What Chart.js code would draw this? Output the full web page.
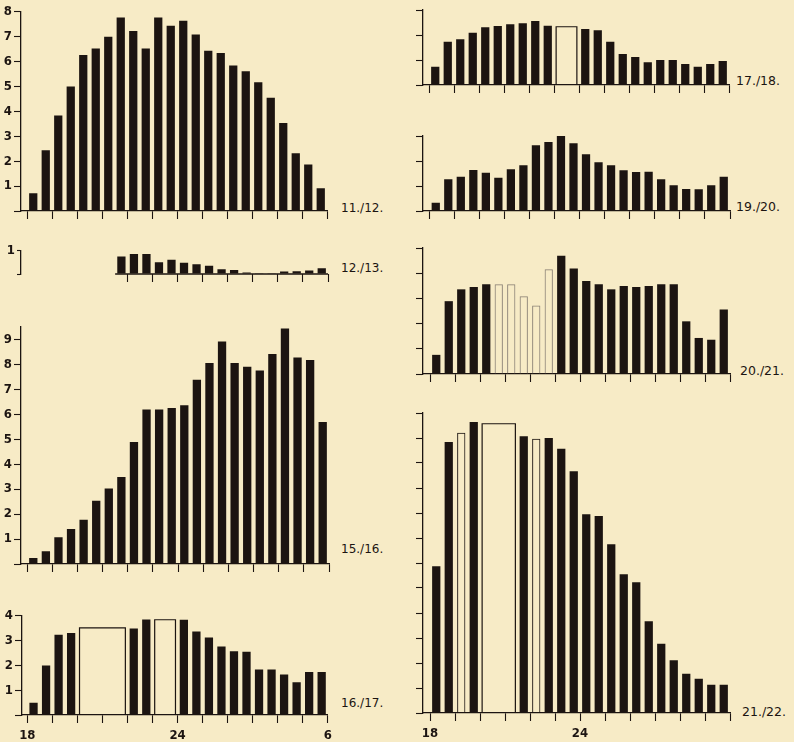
<!DOCTYPE html>
<html lang="de">
<head>
    <meta charset="UTF-8">
    <title>Nächtliche Häufigkeit, 18 - 6 Uhr</title>
    <script src="https://cdn.jsdelivr.net/npm/chart.js"></script>
    <style>
        body {
            margin: 0;
            width: 794px;
            height: 742px;
            position: relative;
            overflow: hidden;
            background: #f7ebc6;
            font-family: 'DejaVu Sans', 'Liberation Sans', sans-serif;
        }

        canvas {
            position: absolute;
        }

        .tag {
            position: absolute;
            font-size: 12px;
            line-height: 12px;
            color: #1c1411;
            white-space: nowrap;
        }

        .tag.big {
            font-size: 12.5px;
            line-height: 13px;
        }
    </style>
</head>
<body>
    <div class="tag" style="left:341px; top:202px">11./12.</div>
    <div class="tag" style="left:341px; top:262px">12./13.</div>
    <div class="tag" style="left:341px; top:543px">15./16.</div>
    <div class="tag" style="left:341px; top:697px">16./17.</div>
    <div class="tag big" style="left:736px; top:74px">17./18.</div>
    <div class="tag big" style="left:736px; top:200px">19./20.</div>
    <div class="tag big" style="left:740px; top:364px">20./21.</div>
    <div class="tag big" style="left:742px; top:705px">21./22.</div>

    <script>
        // half-hour slots, 18 h to 6 h
        const slots = ['18:00', '18:30', '19:00', '19:30', '20:00', '20:30', '21:00', '21:30',
            '22:00', '22:30', '23:00', '23:30', '0:00', '0:30', '1:00', '1:30',
            '2:00', '2:30', '3:00', '3:30', '4:00', '4:30', '5:00', '5:30'];

        // hourly tick labels (13 ticks, 18 h .. 6 h)
        const hourLabels = ['18', '', '', '', '', '', '24', '', '', '', '', '', '6'];
        const hourLabelsNoEnd = ['18', '', '', '', '', '', '24', '', '', '', '', '', ''];

        // values per night (null = no filled bar)
        const v1112 = [0.71, 2.44, 3.84, 5.0, 6.27, 6.53, 7.0, 7.77, 7.23, 6.53, 7.77, 7.44,
            7.64, 7.09, 6.44, 6.35, 5.84, 5.61, 5.17, 4.55, 3.53, 2.32, 1.87, 0.91];
        const v1213 = [null, null, null, null, null, null, null, 0.75, 0.86, 0.86, 0.51, 0.61,
            0.49, 0.42, 0.36, 0.21, 0.17, 0.07, 0.03, 0.03, 0.11, 0.12, 0.15, 0.25];
        const v1516 = [0.24, 0.51, 1.07, 1.4, 1.77, 2.53, 3.02, 3.48, 4.89, 6.19, 6.19, 6.25,
            6.36, 7.38, 8.05, 8.91, 8.05, 7.9, 7.75, 8.41, 9.43, 8.27, 8.17, 5.69];
        const v1617 = [0.49, 2.0, 3.24, 3.31, null, null, null, null, 3.49, 3.85, null, null,
            3.84, 3.37, 3.13, 2.76, 2.57, 2.55, 1.83, 1.83, 1.63, 1.32, 1.73, 1.73];
        const v1718 = [0.73, 1.73, 1.83, 2.09, 2.31, 2.36, 2.43, 2.47, 2.56, 2.37, null, null,
            2.24, 2.19, 1.73, 1.24, 1.12, 0.91, 1.0, 1.0, 0.84, 0.73, 0.84, 0.96];
        const v1920 = [0.33, 1.27, 1.37, 1.64, 1.53, 1.33, 1.67, 1.83, 2.63, 2.76, 3.08, 2.71,
            2.27, 1.95, 1.83, 1.63, 1.56, 1.57, 1.27, 1.03, 0.88, 0.87, 1.03, 1.37];
        const v2021 = [0.76, 2.89, 3.36, 3.45, 3.56, 3.56, 3.56, 3.09, 2.72, 4.16, 4.69, 4.19,
            3.69, 3.56, 3.36, 3.49, 3.45, 3.49, 3.56, 3.56, 2.09, 1.43, 1.36, 2.56];
        const v2122 = [5.87, 10.84, 11.21, 11.64, null, null, null, 11.07, 10.97, 11.0, 10.57, 9.67,
            7.95, 7.88, 6.75, 5.55, 5.23, 3.67, 2.77, 2.11, 1.57, 1.37, 1.13, 1.13];

        // open (outlined) single slots
        const open2021 = [5, 6, 7, 8, 9];
        const open2122 = [2, 8];

        // open boxes spanning several slots: first slot, slot count, value
        const box1617Start = [4, 10];
        const box1617Len = [4, 2];
        const box1617Value = [3.51, 3.84];
        const box1718Start = [10];
        const box1718Len = [2];
        const box1718Value = [2.33];
        const box2122Start = [4];
        const box2122Len = [3];
        const box2122Value = [11.57];

        const INK = '#1c1411';
        const BAR_SHARE = 0.66;
        const tickFont = {
            family: "'DejaVu Sans Condensed', 'Liberation Sans Narrow', sans-serif",
            size: 13,
            weight: 'bold'
        };

        function centre(i) {
            return i * 0.5 + 0.25; // hours after 18 h
        }

        function makeBoxes(starts, lens, vals) {
            return starts.map((s, k) => ({ from: s, len: lens[k], value: vals[k] }));
        }

        function drawPanel(p) {
            const padL = p.yLabels ? 20 : 12;
            const padR = 8, padT = 9;
            const padB = p.xLabels ? 28 : 12;
            const plotH = Math.round(p.yMax * p.ppu);
            const hourPx = (p.x6 - p.x18) / 12;
            const xMin = (p.axisX - p.x18) / hourPx;
            const xFrom = p.xFrom || 0;

            const cv = document.createElement('canvas');
            cv.width = padL + (p.x6 - p.axisX) + padR;
            cv.height = padT + plotH + padB;
            cv.style.left = (p.axisX - padL) + 'px';
            cv.style.top = (p.base - plotH - padT) + 'px';
            document.body.appendChild(cv);

            const pts = [], fills = [], edges = [], widths = [];
            p.values.forEach((v, i) => {
                if (v === null) return;
                const open = (p.open || []).includes(i);
                pts.push({ x: centre(i), y: v, slot: slots[i] });
                fills.push(open ? 'rgba(0,0,0,0)' : INK);
                edges.push(open ? p.openColor : INK);
                widths.push(open ? 1 : 0);
            });

            const datasets = [{
                type: 'bar',
                data: pts,
                backgroundColor: fills,
                borderColor: edges,
                borderWidth: widths,
                borderSkipped: 'start',
                barPercentage: BAR_SHARE,
                categoryPercentage: 1,
                grouped: false
            }];

            const inset = (1 - BAR_SHARE) * 0.25;
            (p.boxes || []).forEach(b => {
                const a = b.from * 0.5 + inset;
                const e = (b.from + b.len) * 0.5 - inset;
                datasets.push({
                    type: 'line',
                    data: [{ x: a, y: 0 }, { x: a, y: b.value }, { x: e, y: b.value }, { x: e, y: 0 }],
                    borderColor: INK,
                    borderWidth: 1.2,
                    pointRadius: 0,
                    fill: false,
                    tension: 0,
                    clip: false
                });
            });

            if (p.xFrom) {
                // short baseline that starts where the record starts
                datasets.push({
                    type: 'line',
                    data: [{ x: p.xFrom, y: 0 }, { x: 12, y: 0 }],
                    borderColor: INK,
                    borderWidth: 1.3,
                    pointRadius: 0,
                    fill: false,
                    clip: false
                });
            }

            const hourTicks = hourLabels.map((_, h) => h).filter(h => h >= xFrom);
            const yTicks = [];
            for (let k = 0; k <= p.yMax; k++) yTicks.push(k);

            new Chart(cv, {
                type: 'bar',
                data: { datasets },
                options: {
                    responsive: false,
                    animation: false,
                    devicePixelRatio: 1,
                    layout: { padding: { top: padT, right: padR, left: 0, bottom: 0 } },
                    plugins: { legend: { display: false }, tooltip: { enabled: false } },
                    scales: {
                        x: {
                            type: 'linear',
                            min: xMin,
                            max: 12,
                            offset: false,
                            afterFit: s => { s.height = padB; },
                            afterBuildTicks: s => {
                                s.ticks = hourTicks.map(v => ({ value: v }));
                            },
                            grid: {
                                offset: false,
                                drawOnChartArea: false,
                                drawTicks: true,
                                tickLength: 8,
                                tickWidth: 1.1,
                                tickColor: INK
                            },
                            border: { display: !p.xFrom, color: INK, width: 1.3 },
                            ticks: {
                                display: !!p.xLabels,
                                autoSkip: false,
                                maxRotation: 0,
                                padding: 5,
                                color: INK,
                                font: tickFont,
                                callback: v => p.xLabels ? (p.xLabels[v] || '') : ''
                            }
                        },
                        y: {
                            min: 0,
                            max: p.yMax,
                            afterFit: s => { s.width = padL; },
                            afterBuildTicks: s => {
                                s.ticks = yTicks.map(v => ({ value: v }));
                            },
                            grid: {
                                drawOnChartArea: false,
                                drawTicks: true,
                                tickLength: p.yTick || 7,
                                tickWidth: 1.1,
                                tickColor: INK
                            },
                            border: { color: INK, width: 1.3 },
                            ticks: {
                                display: !!p.yLabels,
                                padding: 2,
                                color: INK,
                                font: tickFont,
                                callback: v => v === 0 ? '' : String(v)
                            }
                        }
                    }
                }
            });
        }

        // layout of the eight panels (pixels)
        const panels = [
            { values: v1112, yMax: 8, yLabels: true, axisX: 21, x18: 27, x6: 327, base: 211, ppu: 25 },
            { values: v1213, yMax: 1, yLabels: true, yTick: 4, xFrom: 3.5, axisX: 21, x18: 27.5, x6: 328, base: 274, ppu: 24 },
            { values: v1516, yMax: 9.5, yLabels: true, axisX: 21, x18: 27, x6: 329, base: 564, ppu: 25.1 },
            { values: v1617, yMax: 4, yLabels: true, axisX: 22, x18: 27.3, x6: 329, base: 715, ppu: 25,
              boxes: makeBoxes(box1617Start, box1617Len, box1617Value), xLabels: hourLabels },
            { values: v1718, yMax: 3, axisX: 423, x18: 429, x6: 729, base: 85, ppu: 25,
              boxes: makeBoxes(box1718Start, box1718Len, box1718Value) },
            { values: v1920, yMax: 3, axisX: 423, x18: 429.5, x6: 730, base: 211, ppu: 25.1 },
            { values: v2021, yMax: 5, axisX: 423, x18: 430, x6: 730, base: 374, ppu: 25.1,
              open: open2021, openColor: '#8a8175' },
            { values: v2122, yMax: 12, axisX: 423, x18: 430, x6: 730, base: 713, ppu: 25,
              open: open2122, openColor: INK,
              boxes: makeBoxes(box2122Start, box2122Len, box2122Value), xLabels: hourLabelsNoEnd }
        ];

        panels.forEach(drawPanel);
    </script>
</body>
</html>
